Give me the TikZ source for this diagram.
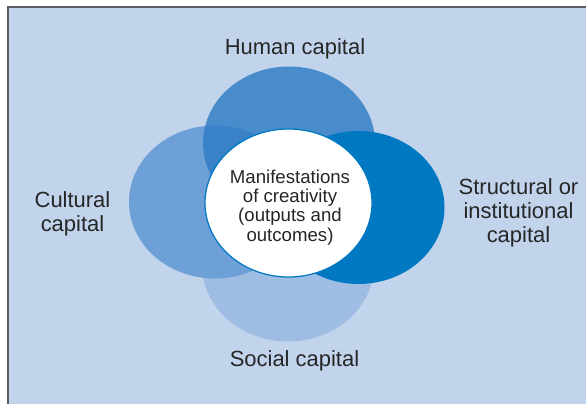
\documentclass[tikz,border=0pt]{standalone}
\usepackage{fontspec}
\setmainfont{Liberation Sans}
\definecolor{panelbg}{HTML}{C1D4EC}
\definecolor{panelrule}{HTML}{5A5F66}
\definecolor{humanblue}{HTML}{2C7BC5}
\definecolor{culturalblue}{HTML}{6EA0D8}
\definecolor{structblue}{HTML}{0078C2}
\definecolor{socialblue}{HTML}{9FBCE2}

\begin{document}
\begin{tikzpicture}[
  lab/.style={align=center, font=\fontsize{12.5}{13.6}\selectfont, text=black!85},
  core/.style={align=center, font=\fontsize{10.6}{10.9}\selectfont, text=black!85}
]
\useasboundingbox (0,0) rectangle (11.72,8.08);
%%%%%%%%%%
% Panel (background)
%%%%%%%%%%
\fill[panelbg] (0.16,0) rectangle (11.72,7.94);
\draw[panelrule, line width=1pt] (0.16,0) -- (0.16,7.94) -- (11.72,7.94);

%%%%%%%%%%
% Capital bubbles
%%%%%%%%%%
\begin{scope}
% Social capital (bottom)
\fill[socialblue] (5.76,2.78) ellipse[x radius=1.72, y radius=1.53];
% Cultural capital (left)
\fill[culturalblue] (4.30,4.04) ellipse[x radius=1.72, y radius=1.53];
% Human capital (top)
\fill[humanblue, fill opacity=0.8] (5.78,5.22) ellipse[x radius=1.72, y radius=1.53];
% Structural or institutional capital (right)
\fill[structblue] (7.17,3.93) ellipse[x radius=1.72, y radius=1.53];
% Manifestations (centre)
\filldraw[fill=white, draw=structblue, line width=0.7pt] (5.77,4.02) ellipse[x radius=1.67, y radius=1.48];
\end{scope}

%%%%%%%%%%
% Labels (foreground)
%%%%%%%%%%
\begin{scope}
\node[core] (manif) at (5.80,3.93) {Manifestations\\of creativity\\(outputs and\\outcomes)};
\node[lab] (human) at (5.90,7.11) {Human capital};
\node[lab] (cultural) at (1.45,3.80) {Cultural\\capital};
\node[lab] (struct) at (10.37,3.83) {Structural or\\institutional\\capital};
\node[lab] (social) at (5.89,0.86) {Social capital};
\end{scope}

\end{tikzpicture}
\end{document}
